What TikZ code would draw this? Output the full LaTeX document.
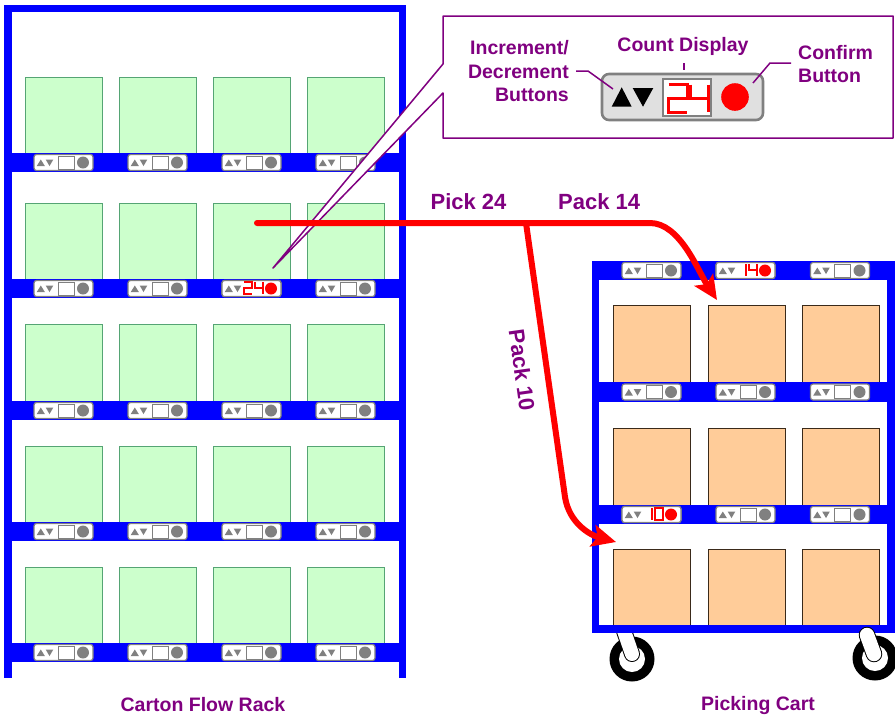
\documentclass[tikz,border=0pt]{standalone}
\usepackage{fontspec}
\setmainfont{Liberation Sans}
\usetikzlibrary{arrows.meta}
\definecolor{rackblue}{HTML}{0000FF}
\definecolor{purp}{HTML}{800080}
\definecolor{boxgreen}{HTML}{CCFFCC}
\definecolor{boxgreenline}{HTML}{55A474}
\definecolor{boxorange}{HTML}{FFCC99}
\definecolor{boxorangeline}{HTML}{3A2A1A}
\definecolor{modgray}{HTML}{808080}
\definecolor{calloutgray}{HTML}{E0E0E0}
\definecolor{arrowred}{HTML}{FF0000}
\newcommand\sdig[5][]{\begin{scope}[shift={(#2,#3)},scale=#4,#1]%
  \ifcase#5\relax
    \draw (0,0) rectangle (1,1.5);%
  \or \draw (1,0) -- (1,1.5);%
  \or \draw (0,0) -- (1,0) -- (1,0.75) -- (0,0.75) -- (0,1.5) -- (1,1.5);%
  \or
  \or \draw (0,0) -- (0,0.75) -- (1,0.75) (1,0) -- (1,1.5);%
  \fi
\end{scope}}
\newcommand\modbase{%
  \draw[modframe] (-29.5,-8) rectangle (29.5,8);
  \fill[modgray] (-26.8,3.6) -- (-18.6,3.6) -- (-22.7,-3) -- cycle;
  \fill[modgray] (-17.8,-3) -- (-10.2,-3) -- (-14,3.6) -- cycle;}
\newcommand\rackmod[2]{\begin{scope}[shift={(#1,#2)}]\modbase
  \draw[draw=modgray, fill=white, line width=0.9] (-5.5,-6.5) rectangle (10.5,6.5);
  \fill[modgray] (19.5,0) circle (6);\end{scope}}
\newcommand\litmod[4]{\begin{scope}[shift={(#1,#2)}]\modbase
  \sdig[arrowred, line width=1.5]{-7.5}{-6.5}{8}{#3}%
  \sdig[arrowred, line width=1.5]{3.5}{-6.5}{8}{#4}%
  \fill[arrowred] (19.5,0) circle (6);\end{scope}}
\begin{document}
\begin{tikzpicture}[x=1pt,y=-1pt,
  greenbox/.style={fill=boxgreen, draw=boxgreenline, line width=0.8},
  orangebox/.style={fill=boxorange, draw=boxorangeline, line width=0.8},
  modframe/.style={draw=modgray, line width=1.2, fill=white, rounded corners=2.5},
  frame/.style={fill=rackblue},
  redarrow/.style={draw=arrowred, line width=6, line cap=round, -{Stealth[length=24pt,width=22pt,inset=5pt]}},
  leader/.style={draw=purp, line width=1.5},
  lbl/.style={font=\fontsize{19.5}{23.5}\selectfont\bfseries, text=purp, inner sep=0pt},
  lblbig/.style={font=\fontsize{22}{26}\selectfont\bfseries, text=purp, inner sep=0pt}]
\useasboundingbox (0,0) rectangle (895,721);

% ---------- carton flow rack ----------
\foreach \t/\b in {77/153, 203/279, 324/401, 446/522, 567/643}
  \foreach \c in {25,119,213,307}
    \draw[greenbox] (\c,\t) rectangle (\c+77,\b);
\foreach \y in {153,279,401,522,643}
  \fill[frame] (4,\y) rectangle (406,\y+19);
\fill[frame] (4,5) rectangle (11.5,678);
\fill[frame] (398.5,5) rectangle (406,678);
\fill[frame] (4,5) rectangle (406,12);
\foreach \y in {162.5,288.5,410.5,531.5,652.5}
  \foreach \x in {63.5,157.5,251.5,345.5}
    {\rackmod{\x}{\y}}
\litmod{251.5}{288.5}{2}{4}

% ---------- picking cart ----------
\fill[black] (632,659) circle (22.5);
\fill[white] (632,659) circle (13);
\fill[black] (875,658) circle (22.5);
\fill[white] (875,658) circle (13);
\draw[black, line width=16, line cap=round] (623,628) -- (632,654);
\draw[white, line width=14, line cap=round] (623,628) -- (632,654);
\foreach \t/\b in {305/382, 428/505, 549/625}
  \foreach \c in {613,708,802}
    \draw[orangebox] (\c,\t) rectangle (\c+77,\b);
\fill[frame] (592,261) rectangle (895,280);
\fill[frame] (592,382) rectangle (895,402);
\fill[frame] (592,505) rectangle (895,524);
\fill[frame] (592,625) rectangle (895,633);
\fill[frame] (592,261) rectangle (598.5,633);
\fill[frame] (887,261) rectangle (895,633);
\draw[black, line width=16.5, line cap=round] (867,635) -- (874,654);
\draw[white, line width=14.5, line cap=round] (867,635) -- (874,654);
\foreach \y in {270.5,392,514.5}
  \foreach \x in {651.5,745.5,840}
    {\rackmod{\x}{\y}}
\litmod{745.5}{270.5}{1}{4}
\litmod{651.5}{514.5}{1}{0}

% ---------- callout ----------
\draw[purp, line width=1.5, line join=round, fill=white]
  (443,16) -- (893,16) -- (893,138) -- (443,138) -- (443,93) -- (273,268) -- (443,64) -- cycle;
\draw[modgray, line width=2.6, fill=calloutgray, rounded corners=7] (602,74) rectangle (763,120);
\fill[black] (611.7,106.7) -- (631.7,106.7) -- (621.7,87.3) -- cycle;
\fill[black] (632.7,88) -- (653.3,88) -- (643,106.7) -- cycle;
\draw[modgray, line width=1.5, fill=white] (663,79) rectangle (711,116);
\sdig[arrowred, line width=3]{668.5}{84.5}{18.5}{2}
\sdig[arrowred, line width=3]{690}{84.5}{18}{4}
\fill[arrowred] (735,97) circle (13.8);

\node[lbl, anchor=base] (countlbl) at (683,51) {Count Display};
\node[lbl, anchor=north east, align=right] (incdec) at (569,40.5) {Increment/\\Decrement\\Buttons};
\node[lbl, anchor=north west, align=left] (confirm) at (798,45) {Confirm\\Button};
\coordinate (incA) at (576,71);
\coordinate (incB) at (588,71);
\coordinate (incC) at (613,89);
\coordinate (cntA) at (684,63);
\coordinate (cntB) at (684,70);
\coordinate (cfA) at (753,83);
\coordinate (cfB) at (770,63);
\coordinate (cfC) at (791,63);
\draw[leader] (incA) -- (incB) -- (incC);
\draw[leader] (cntA) -- (cntB);
\draw[leader] (cfC) -- (cfB) -- (cfA);

% ---------- flow arrows ----------
\coordinate (pickstart) at (257,223);
\coordinate (branch) at (526,223);
\coordinate (tip14) at (717,300);
\coordinate (tip10) at (616,542);
\draw[redarrow] (pickstart) -- (650,223) .. controls (680,223) and (698,271) .. (tip14);
\draw[redarrow] (branch) -- (565,497) .. controls (569,523) and (590,535) .. (tip10);

\node[lblbig, anchor=base] (pick) at (468.5,209) {Pick 24};
\node[lblbig, anchor=base west] (pack14) at (558,209) {Pack 14};
\node[lblbig, rotate=-82] (pack10) at (522,370) {Pack 10};

\node[lbl, anchor=base] (rackname) at (203,711) {Carton Flow Rack};
\node[lbl, anchor=base] (cartname) at (758,710) {Picking Cart};
\end{tikzpicture}
\end{document}
